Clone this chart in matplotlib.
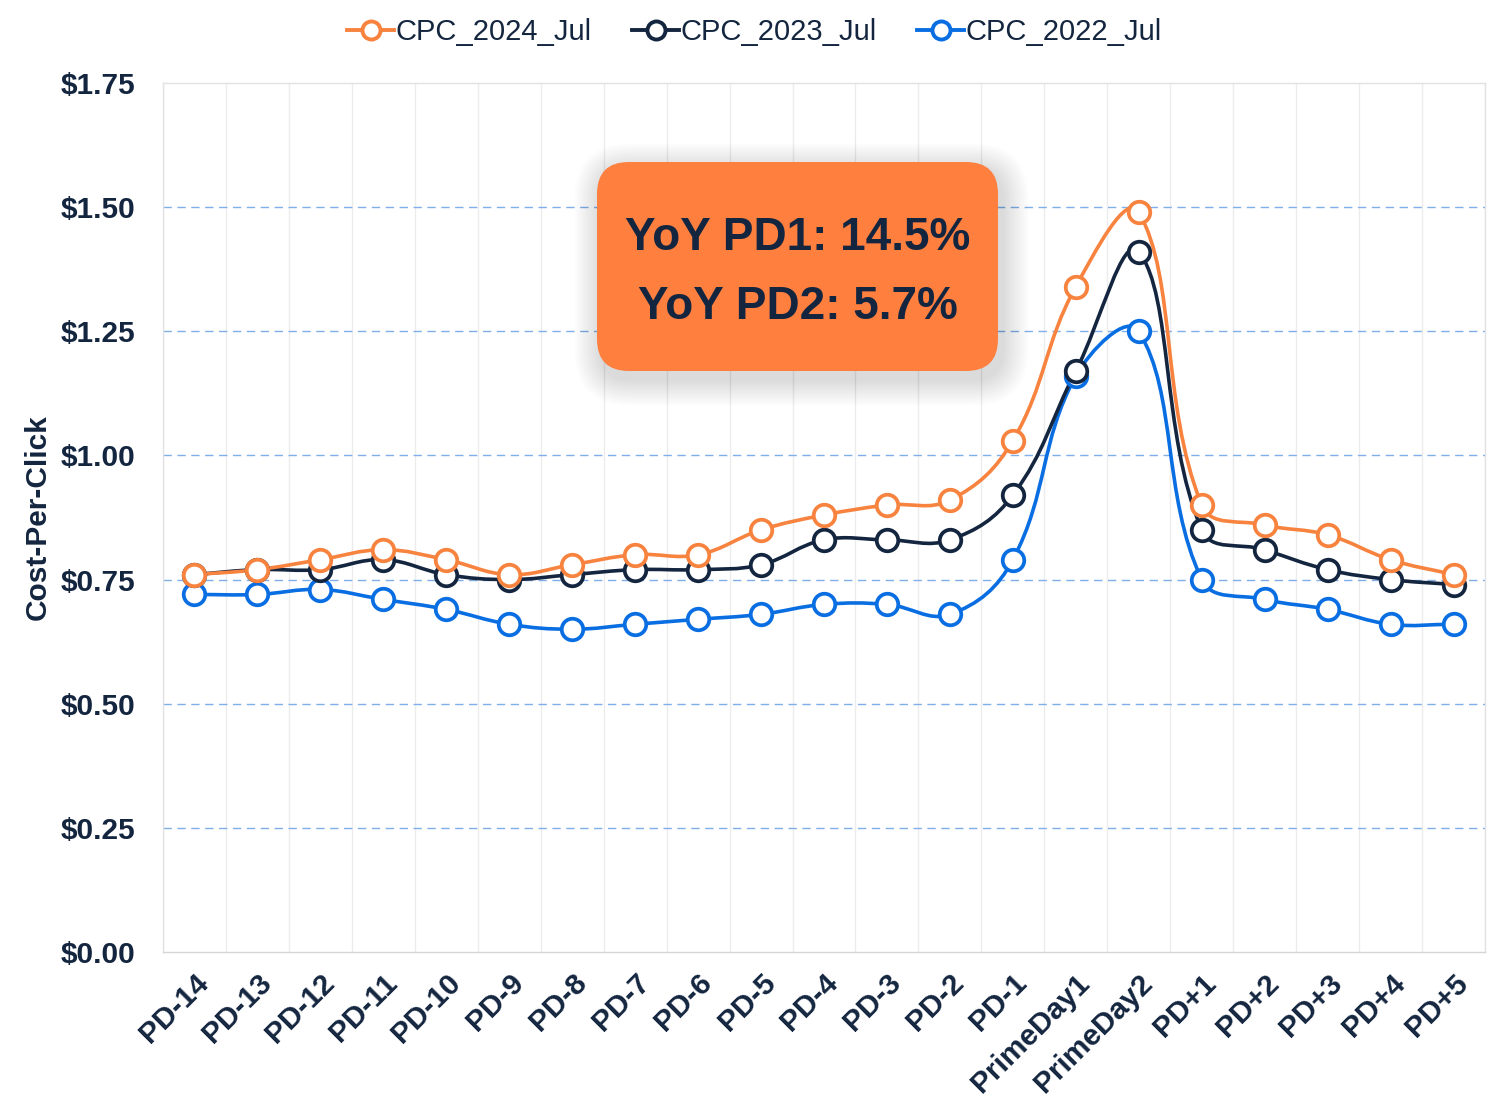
import numpy as np
import matplotlib
matplotlib.use("Agg")
import matplotlib.pyplot as plt
from matplotlib.path import Path
from matplotlib.patches import PathPatch, FancyBboxPatch
from matplotlib.lines import Line2D
from matplotlib.transforms import IdentityTransform

plt.rcParams['font.family'] = ['Liberation Sans', 'DejaVu Sans']

categories = ["PD-14", "PD-13", "PD-12", "PD-11", "PD-10", "PD-9", "PD-8", "PD-7",
              "PD-6", "PD-5", "PD-4", "PD-3", "PD-2", "PD-1", "PrimeDay1", "PrimeDay2",
              "PD+1", "PD+2", "PD+3", "PD+4", "PD+5"]
cpc_2024 = [0.76, 0.77, 0.79, 0.81, 0.79, 0.76, 0.78, 0.80, 0.80, 0.85, 0.88, 0.90,
            0.91, 1.03, 1.34, 1.49, 0.90, 0.86, 0.84, 0.79, 0.76]
cpc_2023 = [0.76, 0.77, 0.77, 0.79, 0.76, 0.75, 0.76, 0.77, 0.77, 0.78, 0.83, 0.83,
            0.83, 0.92, 1.17, 1.41, 0.85, 0.81, 0.77, 0.75, 0.74]
cpc_2022 = [0.72, 0.72, 0.73, 0.71, 0.69, 0.66, 0.65, 0.66, 0.67, 0.68, 0.70, 0.70,
            0.68, 0.79, 1.16, 1.25, 0.75, 0.71, 0.69, 0.66, 0.66]
series_names = ["CPC_2024_Jul", "CPC_2023_Jul", "CPC_2022_Jul"]
y_ticks = [0.0, 0.25, 0.5, 0.75, 1.0, 1.25, 1.5, 1.75]
annotation_lines = ["YoY PD1: 14.5%", "YoY PD2: 5.7%"]

colors = ["#F7833F", "#14263F", "#0A6EE3"]
text_color = "#14263F"

W, H = 1500, 1110
fig = plt.figure(figsize=(W / 100, H / 100), dpi=100)
L, R, T, B = 163, 1485, 83, 952
ax = fig.add_axes([L / W, 1 - B / H, (R - L) / W, (B - T) / H])

n = len(categories)
xs = np.arange(n)
ax.set_xlim(-0.5, n - 0.5)
ax.set_ylim(0, 1.75)

sx = (R - L) / n
sy = (B - T) / 1.75


def smooth_path(x, y, s=0.4):
    P = np.column_stack([np.asarray(x, float) * sx, np.asarray(y, float) * sy])
    m = len(P)
    cin = np.zeros_like(P)
    cout = np.zeros_like(P)
    for i in range(m):
        prev = P[i - 1] if i > 0 else P[i]
        nxt = P[i + 1] if i < m - 1 else P[i]
        v = nxt - prev
        d0 = np.hypot(*(P[i] - prev))
        d1 = np.hypot(*(nxt - P[i]))
        r = d1 / (d0 + d1) if (d0 + d1) > 0 else 0.5
        cin[i] = P[i] - v * s * (1 - r)
        cout[i] = P[i] + v * s * r
    verts = [P[0]]
    codes = [Path.MOVETO]
    for i in range(m - 1):
        verts += [cout[i], cin[i + 1], P[i + 1]]
        codes += [Path.CURVE4] * 3
    verts = np.array(verts)
    verts[:, 0] /= sx
    verts[:, 1] /= sy
    return Path(verts, codes)


# grid
for k in range(n + 1):
    ax.axvline(k - 0.5, color="#ECECEC", lw=1.0, zorder=0)
for t in y_ticks[1:-1]:
    ax.axhline(t, color="#7FAEEA", lw=1.0, ls=(0, (6, 4)), zorder=0.5)

for sp in ax.spines.values():
    sp.set_color("#E2E2E2")
    sp.set_linewidth(1.0)
ax.spines['bottom'].set_color("#D5D5D5")

all_series = [cpc_2024, cpc_2023, cpc_2022]
for idx in [2, 1, 0]:
    vals = all_series[idx]
    c = colors[idx]
    patch = PathPatch(smooth_path(xs, vals), facecolor="none", edgecolor=c,
                      lw=2.6, zorder=3 + (2 - idx) * 0.1, capstyle="round", joinstyle="round")
    ax.add_patch(patch)
    ax.plot(xs, vals, ls="none", marker="o", markersize=15.5, mfc="white", mec=c,
            mew=2.7, zorder=4 + (2 - idx) * 0.1)

fs = 21.5
ax.set_xticks(xs)
ax.set_xticklabels(categories, rotation=45, ha="right", va="top", rotation_mode="anchor",
                   fontsize=fs, fontweight="bold", color=text_color)
ax.set_yticks(y_ticks)
ax.set_yticklabels([f"${t:.2f}" for t in y_ticks], fontsize=fs, fontweight="bold",
                   color=text_color)
ax.tick_params(axis="both", length=0)
ax.tick_params(axis="x", pad=12)
ax.tick_params(axis="y", pad=20)
ax.set_ylabel("Cost-Per-Click", fontsize=fs, fontweight="bold", color=text_color, labelpad=6)

# annotation box with soft shadow (display pixel coords; figure y is flipped)
bx0, bx1, by_top, by_bot = 597, 998, 162, 371
bw, bh = bx1 - bx0, by_bot - by_top
for j in range(12, 0, -1):
    g = j * 2.2
    sh = FancyBboxPatch((bx0 - g + 4, H - by_bot - g - 8), bw + 2 * g, bh + 2 * g,
                        boxstyle=f"round,pad=0,rounding_size={30 + g}",
                        transform=IdentityTransform(), facecolor="#000000",
                        edgecolor="none", alpha=0.010, zorder=8)
    fig.patches.append(sh)
box = FancyBboxPatch((bx0, H - by_bot), bw, bh, boxstyle="round,pad=0,rounding_size=32",
                     transform=IdentityTransform(), facecolor="#FF7F3F", edgecolor="none",
                     zorder=9)
fig.patches.append(box)
fig.text((bx0 + bx1) / 2 / W, 1 - 238 / H, annotation_lines[0], ha="center", va="center",
         fontsize=33, fontweight="bold", color=text_color, zorder=10)
fig.text((bx0 + bx1) / 2 / W, 1 - 307 / H, annotation_lines[1], ha="center", va="center",
         fontsize=33, fontweight="bold", color=text_color, zorder=10)

handles = [Line2D([0], [0], color=c, lw=2.8, marker="o", markersize=13, mfc="white",
                  mec=c, mew=2.8) for c in colors]
fig.legend(handles, series_names, loc="center", bbox_to_anchor=(0.503, 1 - 32 / H),
           ncol=3, frameon=False, fontsize=21, handlelength=1.6, handletextpad=0.05,
           columnspacing=1.4, labelcolor=text_color)

fig.savefig("out.png", dpi=100)
